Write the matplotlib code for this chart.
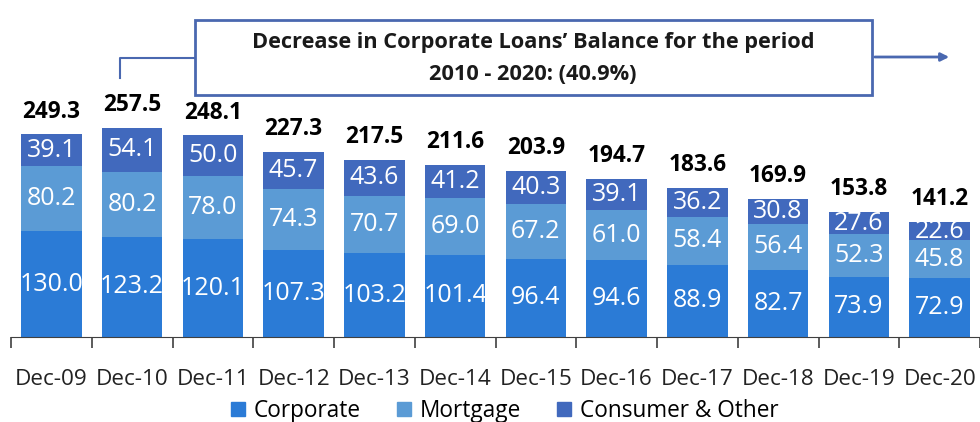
import matplotlib.pyplot as plt
from matplotlib.patches import Rectangle, Patch
import numpy as np

plt.rcParams['font.family'] = ['Open Sans', 'DejaVu Sans']

# --- dados ---
periods = ['Dec-09', 'Dec-10', 'Dec-11', 'Dec-12', 'Dec-13', 'Dec-14',
           'Dec-15', 'Dec-16', 'Dec-17', 'Dec-18', 'Dec-19', 'Dec-20']
corporate = [130.0, 123.2, 120.1, 107.3, 103.2, 101.4, 96.4, 94.6, 88.9, 82.7, 73.9, 72.9]
mortgage = [80.2, 80.2, 78.0, 74.3, 70.7, 69.0, 67.2, 61.0, 58.4, 56.4, 52.3, 45.8]
consumer = [39.1, 54.1, 50.0, 45.7, 43.6, 41.2, 40.3, 39.1, 36.2, 30.8, 27.6, 22.6]
totals = [249.3, 257.5, 248.1, 227.3, 217.5, 211.6, 203.9, 194.7, 183.6, 169.9, 153.8, 141.2]

box_text = "Decrease in Corporate Loans\u2019 Balance for the period\n2010 - 2020: (40.9%)"

c_corp = '#2b7bd6'
c_mort = '#5b9bd5'
c_cons = '#4169bd'
c_box = '#4a68b0'

fig = plt.figure(figsize=(9.8, 4.22), dpi=100)
ax = fig.add_axes([11 / 980, 85 / 422, 969 / 980, 337 / 422])

x = np.arange(len(periods))
w = 0.75
corp = np.array(corporate)
mort = np.array(mortgage)
cons = np.array(consumer)

ax.bar(x, corp, w, color=c_corp, label='Corporate')
ax.bar(x, mort, w, bottom=corp, color=c_mort, label='Mortgage')
ax.bar(x, cons, w, bottom=corp + mort, color=c_cons, label='Consumer & Other')

for i in range(len(periods)):
    ax.text(x[i], corp[i] / 2, f'{corp[i]:.1f}', ha='center', va='center',
            color='white', fontsize=18)
    ax.text(x[i], corp[i] + mort[i] / 2, f'{mort[i]:.1f}', ha='center', va='center',
            color='white', fontsize=18)
    ax.text(x[i], corp[i] + mort[i] + cons[i] / 2, f'{cons[i]:.1f}', ha='center',
            va='center', color='white', fontsize=18)
    ax.text(x[i], totals[i] + 28, f'{totals[i]:.1f}', ha='center', va='center',
            color='black', fontsize=16.3, fontweight='bold')

ax.set_xlim(-0.5, 11.39)
ax.set_ylim(0, 337 / 0.813)

for s in ['top', 'right', 'left']:
    ax.spines[s].set_visible(False)
ax.spines['bottom'].set_color('#404040')
ax.set_yticks([])
ax.set_xticks(x)
ax.set_xticklabels(periods, fontsize=16.2, color='#222222')
ax.tick_params(axis='x', length=0, pad=23)
ax.set_xticks(np.arange(-0.5, 12, 1), minor=True)
ax.tick_params(axis='x', which='minor', length=8, color='#404040', width=1.2)

# caixa de anotacao
fig.patches.append(Rectangle((195 / 980, 1 - 95 / 422), 677 / 980, 75 / 422,
                             transform=fig.transFigure, fill=False,
                             edgecolor=c_box, linewidth=2))
fig.text(533 / 980, 1 - 58.5 / 422, box_text, ha='center', va='center',
         fontsize=15.7, fontweight='bold', linespacing=1.65, color='#1a1a1a')
fig.lines.append(plt.Line2D([195 / 980, 120 / 980, 120 / 980],
                            [1 - 58 / 422, 1 - 58 / 422, 1 - 78 / 422],
                            transform=fig.transFigure, color=c_box, linewidth=1.5))
ax.annotate('', xy=(952 / 980, 1 - 57 / 422), xytext=(872 / 980, 1 - 57 / 422),
            xycoords='figure fraction', textcoords='figure fraction',
            arrowprops=dict(arrowstyle='-|>', color=c_box, lw=2, mutation_scale=12))

handles = [Patch(color=c_corp), Patch(color=c_mort), Patch(color=c_cons)]
fig.legend(handles, ['Corporate', 'Mortgage', 'Consumer & Other'], loc='center',
           bbox_to_anchor=(505 / 980, 1 - 411 / 422), ncol=3, frameon=False,
           fontsize=16.3, handlelength=0.6, handleheight=0.6, columnspacing=1.6,
           handletextpad=0.4)

fig.savefig('out.png', dpi=100)
